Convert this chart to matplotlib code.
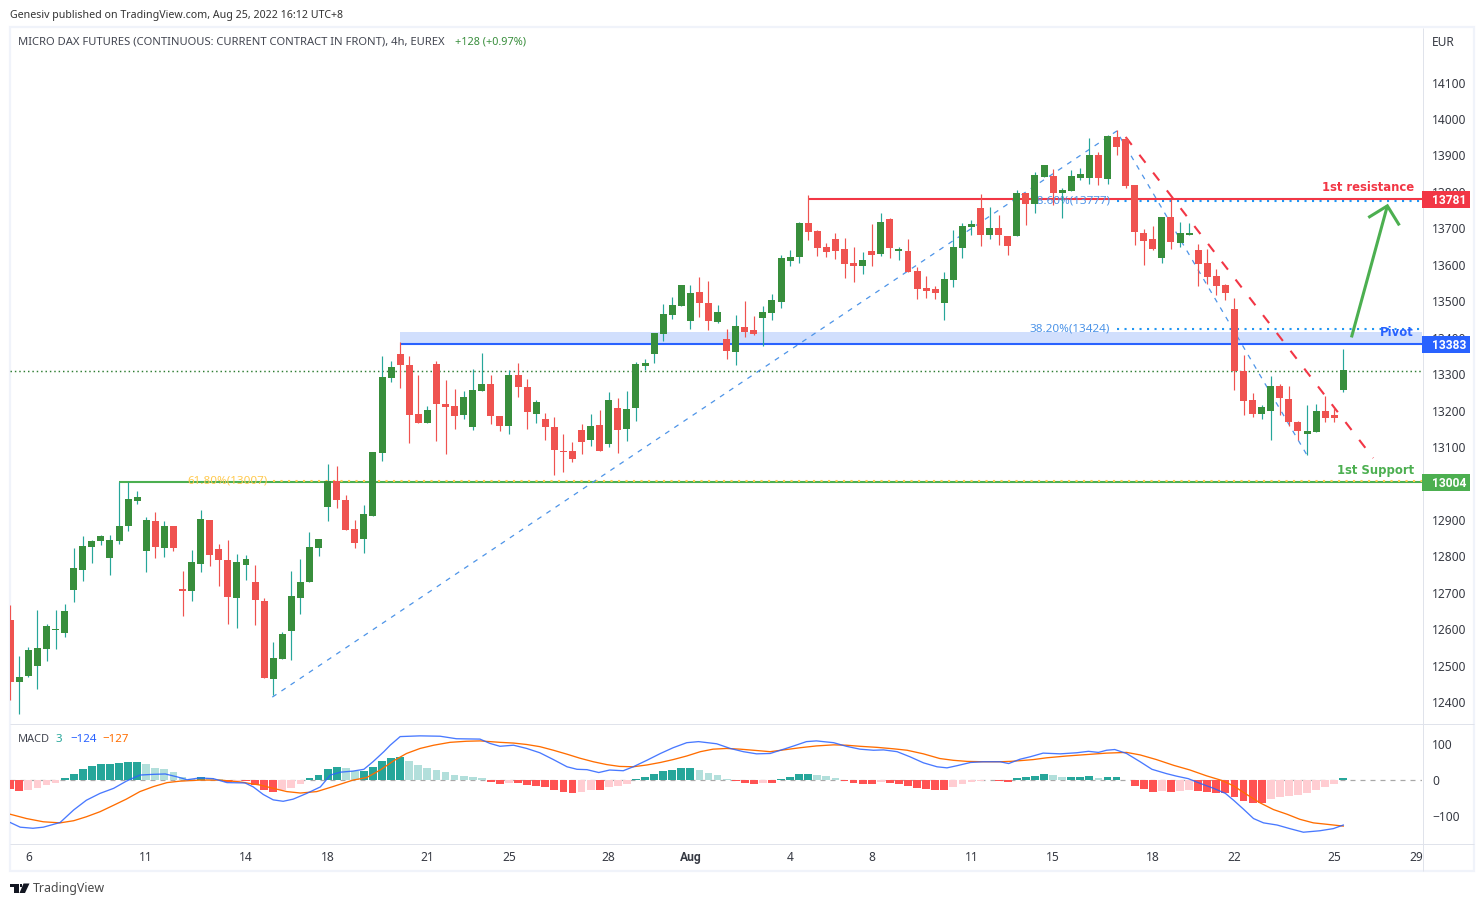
import matplotlib
matplotlib.use("Agg")
import matplotlib.pyplot as plt
from matplotlib.lines import Line2D
from matplotlib.patches import Rectangle, Polygon

W, H = 1484, 906
plt.rcParams['font.family'] = ['Noto Sans', 'DejaVu Sans']

# ---- price data (4h bars, EUR) ----
opens = [12627,12456,12473,12500,12547,12599,12591,12709,12764,12827,12843,12797,12843,12884,12953,12816,12898,12824,12884,12712,12706,12780,12901,12821,12791,12687,12777,12731,12679,12465,12519,12596,12687,12731,12824,12937,13008,12956,12876,12849,12912,13085,13291,13357,13326,13192,13167,13329,13219,13214,13189,13156,13255,13274,13186,13159,13299,13266,13192,13178,13156,13090,13090,13148,13120,13162,13109,13208,13151,13208,13324,13356,13411,13463,13488,13447,13527,13496,13444,13398,13362,13431,13422,13455,13469,13499,13612,13623,13716,13694,13650,13672,13645,13606,13598,13639,13631,13727,13639,13639,13584,13538,13535,13496,13560,13647,13705,13757,13683,13702,13680,13680,13798,13768,13842,13845,13798,13804,13839,13839,13903,13837,13952,13946,13820,13688,13672,13620,13732,13661,13683,13642,13606,13571,13546,13480,13310,13230,13192,13200,13269,13233,13170,13137,13142,13200,13189,13258]
highs = [12668,12528,12552,12654,12616,12654,12670,12824,12857,12846,12860,12860,13005,13005,12981,12909,12923,12898,12884,12761,12819,12928,12901,12835,12846,12808,12805,12777,12687,12566,12594,12761,12794,12868,12849,13055,13049,12970,12901,12942,13087,13351,13337,13389,13351,13299,13214,13337,13285,13260,13255,13315,13359,13299,13186,13313,13332,13288,13230,13195,13184,13137,13115,13164,13192,13203,13252,13236,13255,13335,13343,13414,13494,13513,13546,13546,13568,13557,13491,13425,13463,13502,13461,13488,13521,13628,13642,13719,13793,13697,13661,13689,13675,13650,13636,13713,13743,13730,13650,13672,13595,13570,13543,13582,13697,13716,13724,13796,13760,13738,13680,13806,13798,13856,13875,13864,13812,13861,13867,13949,13911,13957,13971,13952,13820,13699,13708,13732,13782,13718,13716,13658,13645,13590,13549,13510,13354,13249,13216,13296,13274,13269,13173,13216,13219,13241,13208,13370]
lows = [12407,12369,12470,12437,12514,12547,12580,12676,12734,12783,12832,12750,12835,12871,12945,12758,12797,12799,12816,12637,12679,12758,12775,12720,12616,12604,12736,12613,12467,12421,12519,12517,12643,12731,12802,12898,12934,12874,12824,12810,12912,13063,13280,13263,13112,13167,13167,13118,13082,13151,13178,13148,13255,13164,13145,13137,13238,13151,13167,13120,13024,13033,13060,13082,13104,13090,13101,13085,13118,13173,13313,13332,13392,13453,13488,13425,13458,13422,13442,13343,13326,13403,13409,13378,13450,13483,13598,13606,13669,13625,13623,13617,13565,13554,13576,13598,13625,13620,13614,13582,13507,13510,13507,13450,13540,13620,13683,13653,13672,13656,13628,13680,13710,13743,13842,13765,13730,13804,13834,13823,13820,13823,13903,13812,13656,13601,13642,13606,13645,13650,13683,13543,13549,13518,13505,13258,13189,13184,13178,13120,13189,13159,13120,13079,13142,13170,13170,13252]
closes = [12456,12470,12544,12550,12610,12602,12651,12769,12830,12843,12857,12846,12884,12959,12964,12901,12827,12884,12824,12706,12786,12904,12805,12791,12690,12786,12794,12681,12467,12522,12588,12692,12731,12827,12849,13008,12956,12874,12838,12917,13087,13293,13321,13326,13189,13167,13203,13219,13211,13186,13238,13258,13274,13186,13159,13299,13266,13197,13225,13156,13093,13088,13068,13115,13159,13090,13230,13148,13205,13329,13332,13414,13466,13491,13546,13524,13496,13447,13472,13365,13433,13417,13411,13472,13505,13620,13623,13716,13691,13647,13636,13639,13603,13598,13614,13628,13719,13647,13645,13582,13535,13529,13524,13562,13650,13708,13713,13683,13702,13683,13653,13798,13768,13848,13875,13798,13806,13845,13850,13903,13839,13955,13925,13817,13691,13666,13645,13732,13664,13688,13688,13603,13568,13543,13524,13310,13227,13192,13211,13269,13236,13170,13145,13145,13200,13181,13181,13313]

# ---- MACD ----
hist = [-24,-30,-27,-21,-13,-7,6,18,31,40,45,45,48,51,51,45,34,31,23,9,4,9,6,4,-5,-2,-2,-13,-27,-32,-27,-21,-10,6,15,31,37,34,26,26,37,54,62,65,54,43,34,29,23,15,12,9,6,-5,-10,-7,-7,-13,-16,-19,-27,-32,-35,-32,-27,-27,-19,-16,-10,4,9,18,26,29,34,34,29,20,15,4,-2,-7,-10,-7,-7,4,9,18,18,15,12,6,-2,-7,-10,-10,-5,-7,-10,-16,-21,-24,-27,-27,-19,-10,-5,-2,1,-2,-5,6,9,12,18,15,9,9,9,12,6,9,9,1,-16,-24,-32,-30,-32,-30,-27,-30,-32,-35,-35,-46,-57,-63,-63,-52,-46,-43,-41,-35,-27,-19,-10,6]
macd_pos = [0,1.1,2.5,3.65,5.5,7,8.4,9.9,11.4,12.8,14.3,15.8,17.1,18.4,19.5,20.9,22.4,23.9,25.9,26.8,27.9,29,30.1,31.2,32.7,34.2,35.3,36.4,37.8,39,40,41.2,41.9,43,45.2,47.4,49.2,51.8,52.9,54,55.5,56.95,58.4,59.9,61.4,62.5,63.6,64.9,66.1,67.6,68.7,70.2,71.7,73.1,74.6,75.9,77.9,79.4,80.85,82.3,83.8,85.3,86.4,87.8,88.9,90.8,92.2,93.7,95.2,96.3,97.8,99.2,100.7,102.2,103.3,104.4,105.9,107.3,109.15,110.1,111.35,112.5,113.9,115.8,117.6,118.9,120,120.9,121.8,123.1,124.6,125.9,127.5,128.6,129.9,131.2,132.7,134,134.9,136,137.1,138.2,139.7,141.1,142.6,144.4,145.9,147]
macd_val = [-117,-130,-133,-130,-117,-82,-55,-36,-22,-2,15,17,18,10,2,7,5,-6,-7,-18,-39,-54,-58,-52,-36,-18,15,23,26,31,52,80,98,122,124,123,116,115,103,95,98,89,77,58,38,31,30,22,29,27,38,56,75,91,105,108,102,89,80,74,75,87,96,108,110,105,95,87,84,85,80,66,49,38,35,41,50,52,52,47,59,66,76,74,77,81,78,84,86,75,52,31,19,12,5,-8,-22,-36,-55,-80,-106,-118,-124,-134,-144,-140,-134,-124]
signal_pos = [0,1.8,3.65,5.5,7,8.4,9.9,11.4,12.8,14.3,15.8,17.3,18.7,20.9,23.1,25.3,27.6,29,30.5,32,33.8,35.6,37.8,39.3,40.8,42.3,43.7,45.2,46.7,48.5,50.3,51.8,54,55.5,56.95,58.4,59.9,61.4,62.8,64.3,65.8,67.2,68.7,70.2,71.7,73.1,74.6,76.1,77.5,79,80.5,81.95,83.8,85.6,87.1,88.9,90.8,92.2,93.7,95.6,97.4,98.9,100.7,102.5,104,105.5,107.3,109.15,110.25,111.35,112.8,114.3,116.5,118.7,120.9,123.1,124.6,126.4,128.3,130.1,131.9,133.6,134.9,136.35,137.8,139.3,140.8,142.2,143.7,145.2,147]
signal_val = [-94,-106,-115,-118,-112,-101,-87,-69,-52,-31,-17,-6,-2,1,1,-4,-13,-22,-31,-35,-31,-17,1,8,29,55,75,89,98,106,109,110,106,104,100,94,84,73,62,52,44,39,38,43,50,58,68,80,87,89,87,84,80,86,91,96,99,98,95,92,88,84,74,61,56,53,52,52,53,55,58,63,68,72,76,78,71,58,42,29,13,0,-15,-39,-62,-81,-94,-108,-118,-122,-127]

# ---- chart drawings ----
res_price, res_from = 13781, 88
sup_price, sup_from = 13004, 12
piv_price, piv_top, piv_from = 13383, 13417, 43
last_price = 13311
fib_prices = [13007, 13424, 13777]
fib_from = [29, 122, 122]
fib_labels = ["61.80%(13007)", "38.20%(13424)", "78.60%(13777)"]
fib_label_at = [28.4, 121.3, 121.3]
fib_colors = ["#ffc94d", "#4d94e8", "#4d94e8"]
fib_path_x = [28.9, 122, 143]
fib_path_p = [12415, 13968, 13079]
trend_x, trend_p = [123, 150.3], [13952, 13071]
arrow_x, arrow_p = [147.9, 151.86], [13402, 13763]
barb_x, barb_p = [149.9, 151.86, 153.1], [13733, 13763, 13713]

price_ticks = list(range(12400, 14101, 100))
macd_ticks = [100, 0, -100]
macd_tick_labels = ["100", "0", "\u2212100"]
day_pos = [2,15,26,35,46,55,66,75,86,95,106,115,126,135,146,155]
day_labels = ["6","11","14","18","21","25","28","Aug","4","8","11","15","18","22","25","29"]

GREEN_BODY, GREEN_WICK, RED = "#388e3c", "#26a69a", "#ef5350"
GRID = "#e0e3eb"; TXT = "#434651"; FRAME = "#f0f3fa"

fig = plt.figure(figsize=(W/100, H/100), dpi=100, facecolor="white")

def axes_px(x0, y0, x1, y1):
    return fig.add_axes([x0/W, 1-y1/H, (x1-x0)/W, (y1-y0)/H], facecolor="none")

def ftext(x, y, s, size=12, color=TXT, ha="left", weight="normal", **kw):
    return fig.text(x/W, 1-(y+1)/H, s, fontsize=size*0.72, color=color, ha=ha, va="center",
                    fontweight=weight, **kw)

def fline(x0, y0, x1, y1, color=GRID, lw=1.0, z=-1):
    fig.add_artist(Line2D([x0/W, x1/W], [1-y0/H, 1-y1/H], color=color, lw=lw*0.72, zorder=z,
                          solid_capstyle="butt"))

# frame
fig.add_artist(Rectangle((10/W, 1-871/H), 1464/W, 844/H, fc="white", ec=FRAME, lw=1.6, zorder=-2,
                         transform=fig.transFigure))
fline(1422.5, 28, 1422.5, 871)
fline(10, 723.5, 1474, 723.5)
fline(10, 843.5, 1474, 843.5)

XL = (-0.025, 155.68)
ax = axes_px(10, 28, 1422, 723)
ax.set_xlim(*XL); ax.set_ylim(12344, 14251)
am = axes_px(10, 724, 1422, 843)
am.set_xlim(*XL); am.set_ylim(-174, 157)

# drawings (beneath the candles)
ax.add_patch(Rectangle((piv_from, piv_price), XL[1]-piv_from, piv_top-piv_price, fc="#d1dffd", ec="none", zorder=1))
ax.plot(XL, [last_price]*2, color="#2e7d32", lw=1.05, ls=(0, (1, 2)), zorder=1.1)
for p, fr, c in zip(fib_prices, fib_from, fib_colors):
    ax.plot([fr, XL[1]], [p, p], color=c if c != fib_colors[1] else "#2196f3", lw=1.5, ls=(0, (1, 2.6)), zorder=1.6)
ax.plot([res_from, XL[1]], [res_price]*2, color="#f23645", lw=1.5, zorder=1.5, solid_capstyle="butt")
ax.plot([sup_from, XL[1]], [sup_price]*2, color="#4caf50", lw=1.5, zorder=1.5, solid_capstyle="butt")
ax.plot([piv_from, XL[1]], [piv_price]*2, color="#2962ff", lw=1.5, zorder=1.5, solid_capstyle="butt")
for s, xx, p, c in zip(fib_labels, fib_label_at, fib_prices, fib_colors):
    ax.text(xx, p, s, color=c, fontsize=8.4, ha="right", va="center", zorder=1.7)
ax.plot(fib_path_x, fib_path_p, color="#4d94e8", lw=0.9, ls=(0, (4, 4.8)), zorder=1.8)
ax.plot(trend_x, trend_p, color="#f23645", lw=1.5, ls=(0, (4.8, 6)), zorder=1.8)
ax.plot(arrow_x, arrow_p, color="#4caf50", lw=2.2, zorder=1.9, solid_capstyle="butt")
ax.plot(barb_x, barb_p, color="#4caf50", lw=2.2, zorder=1.9, solid_joinstyle="miter")

# candles
xs = list(range(len(opens)))
up = [c >= o for o, c in zip(opens, closes)]
ax.vlines(xs, lows, highs, colors=[GREEN_WICK if u else RED for u in up], lw=0.85, zorder=3)
tops = [max(o, c) for o, c in zip(opens, closes)]
bots = [min(o, c) for o, c in zip(opens, closes)]
ax.bar(xs, [t-b for t, b in zip(tops, bots)], bottom=bots, width=0.77,
       color=[GREEN_BODY if u else RED for u in up], linewidth=0, zorder=4)
ax.axis("off")

# MACD
hx = list(range(len(hist)))
hcol = []
for i, v in enumerate(hist):
    prev = hist[i-1] if i else v - 1 if v > 0 else v + 1
    if v >= 0:
        hcol.append("#26a69a" if v >= prev else "#b2dfdb")
    else:
        hcol.append("#ff5252" if v <= prev else "#ffcdd2")
am.plot(XL, [0, 0], color="#a8a8a8", lw=0.9, ls=(0, (4, 4)), zorder=1)
am.bar(hx, hist, width=0.86, color=hcol, linewidth=0, zorder=2)
am.plot(signal_pos, signal_val, color="#ff6d00", lw=0.95, zorder=3)
am.plot(macd_pos, macd_val, color="#2962ff", lw=0.95, alpha=0.85, zorder=4)
am.axis("off")

# price axis
for p in price_ticks:
    y = 119.5 + (14000-p)*0.3644
    ftext(1432, y, str(p), 12, "#131722", alpha=0.85, zorder=2)
ftext(1432, 41, "EUR", 12, "#131722", alpha=0.85, zorder=2)

# price boxes
for p, lab, c in [(res_price, "13781", "#f23645"), (piv_price, "13383", "#2962ff"), (sup_price, "13004", "#4caf50")]:
    yy = 119.5 + (14000-p)*0.3644
    fig.add_artist(Rectangle((1422/W, 1-(yy+8.5)/H), 48/W, 17/H, fc=c, ec="none", zorder=3, transform=fig.transFigure))
    ftext(1432, yy, lab, 12, "white", zorder=4, family="Roboto", weight="bold")

for t, lab in zip(macd_ticks, macd_tick_labels):
    ftext(1432, 780.3 - t*0.36, lab, 12, "#131722", alpha=0.85)

# time axis
for d, lab in zip(day_pos, day_labels):
    ftext(10.23 + d*9.068, 856.5, lab, 12, "#131722", ha="center", alpha=0.85,
          **({"family": "Roboto", "weight": "bold"} if lab == "Aug" else {}))

# headers
ftext(10, 14.5, "Genesiv published on TradingView.com, Aug 25, 2022 16:12 UTC+8", 10.6, "#333333")
ftext(18, 41.5, "MICRO DAX FUTURES (CONTINUOUS: CURRENT CONTRACT IN FRONT), 4h, EUREX", 11.25, TXT)
ftext(455, 41.5, "+128 (+0.97%)", 10.9, "#388e3c")
ftext(18, 738.5, "MACD", 11, TXT)
ftext(55, 738.5, "3", 11.5, "#26a69a")
ftext(70, 738.5, "\u2212124", 11.5, "#2962ff")
ftext(102, 738.5, "\u2212127", 11.5, "#ff6d00")

# annotations
ftext(1414, 186.5, "1st resistance", 11.6, "#f23645", ha="right", family="DejaVu Sans", weight="bold")
ftext(1414, 469.5, "1st Support", 11.6, "#4caf50", ha="right", family="DejaVu Sans", weight="bold")
ftext(1414, 331, "Pivot", 11.6, "#2962ff", ha="right", family="DejaVu Sans", weight="bold")

# footer logo + text
def fx(p): return [(a/W, 1-b/H) for a, b in p]
fig.add_artist(Polygon(fx([(10,883.5),(19,883.5),(19,893),(14,893),(14,887.3),(10,887.3)]), fc="#131722", ec="none", transform=fig.transFigure))
fig.add_artist(Polygon(fx([(23.5,883.5),(29.5,883.5),(25,893),(19.5,893)]), fc="#131722", ec="none", transform=fig.transFigure))
fig.add_artist(Polygon(fx([(19.8,884),(22.2,884),(22.2,886.6),(19.8,886.6)]), fc="#131722", ec="none", transform=fig.transFigure))
ftext(33, 887.5, "TradingView", 12.4, "#4a4a4a")

fig.savefig("out.png", dpi=100)
